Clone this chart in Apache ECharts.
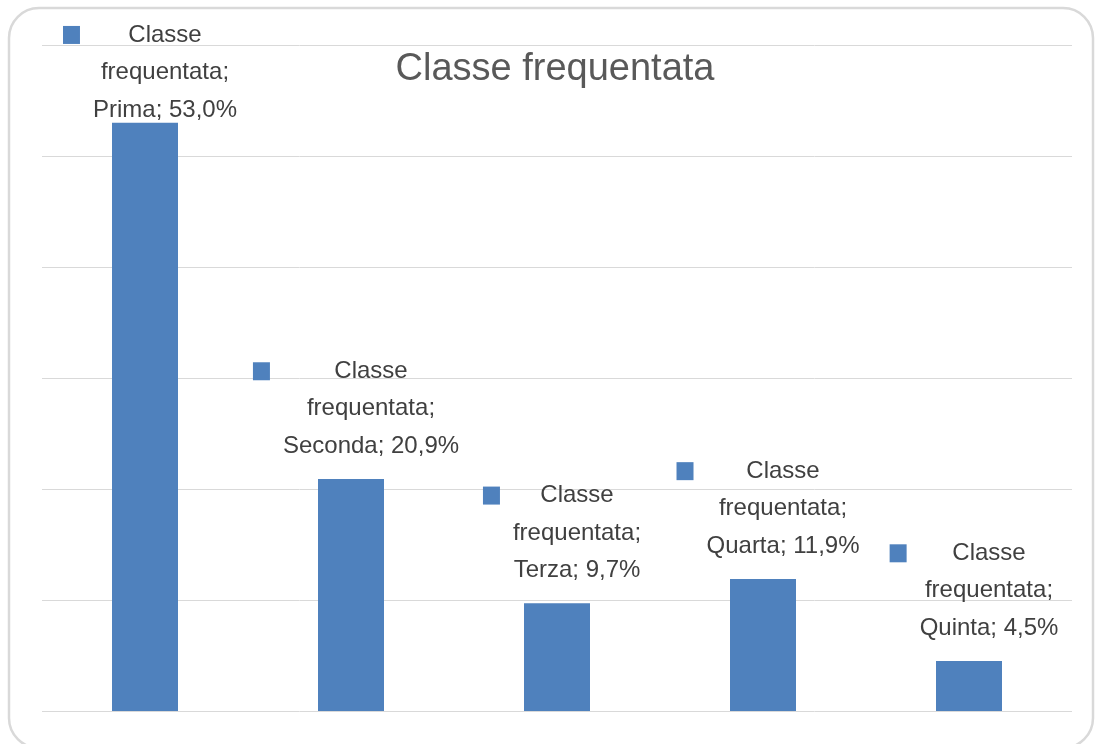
<!DOCTYPE html>
<html>
<head>
<meta charset="utf-8">
<script src="https://cdn.jsdelivr.net/npm/echarts@6/dist/echarts.min.js"></script>
<style>
  html, body { margin: 0; padding: 0; background: #fff; }
  #main { width: 1096px; height: 744px; }
</style>
</head>
<body>
<div id="main"></div>
<script>
// dati
const seriesName = 'Classe frequentata';
const categories = ['Prima', 'Seconda', 'Terza', 'Quarta', 'Quinta'];
const values = [53.0, 20.9, 9.7, 11.9, 4.5];

const FONT = '"Liberation Sans Narrow", "Liberation Sans", sans-serif';
const BLUE = '#4f81bd';

let chart = echarts.init(document.getElementById('main'));

// etichetta: quadratino della legenda + 3 righe
function labelFmt(p) {
  let val = p.value.toFixed(1).replace('.', ',') + '%';
  return '{m|}{t|Classe}{q|}\n{p|}{t|frequentata;}{p|}\n{p|}{t|' + p.name + '; ' + val + '}{p|}';
}

// la prima etichetta in Excel viene spinta in basso (non entra nell'area)
let barData = values.map(function (v, i) {
  return i === 0 ? { value: v, label: { offset: [20, 20] } } : v;
});

let option = {
  animation: false,
  title: {
    text: seriesName,
    left: 550,
    top: 46,
    textAlign: 'center',
    textStyle: { fontFamily: FONT, fontSize: 38, fontWeight: 'normal', color: '#595959' }
  },
  graphic: [{
    type: 'rect',
    shape: { x: 9, y: 8, width: 1084, height: 740, r: 30 },
    style: { fill: 'none', stroke: '#d9d9d9', lineWidth: 2.5 },
    silent: true
  }],
  grid: { left: 42, right: 24, top: 45, bottom: 33 },
  xAxis: {
    type: 'category',
    data: categories,
    axisLine: { show: false },
    axisTick: { show: false },
    axisLabel: { show: false }
  },
  yAxis: {
    type: 'value',
    min: 0,
    max: 60,
    interval: 10,
    axisLabel: { show: false },
    axisLine: { show: false },
    axisTick: { show: false },
    splitLine: { lineStyle: { color: '#d9d9d9', width: 1 } }
  },
  series: [{
    name: seriesName,
    type: 'bar',
    data: barData,
    barWidth: 66,
    itemStyle: { color: BLUE },
    label: {
      show: true,
      position: 'top',
      distance: 14,
      offset: [20, 0],
      align: 'center',
      formatter: labelFmt,
      rich: {
        m: { width: 17, height: 18, backgroundColor: BLUE, lineHeight: 37.5, align: 'left', verticalAlign: 'middle' },
        q: { width: 17, height: 18, lineHeight: 37.5, align: 'right' },
        p: { width: 30, height: 18, lineHeight: 37.5 },
        t: { fontFamily: FONT, fontSize: 24, color: '#404040', lineHeight: 37.5 }
      }
    }
  }]
};

chart.setOption(option);

window.addEventListener('resize', function () {
  chart.resize();
});
</script>
</body>
</html>
